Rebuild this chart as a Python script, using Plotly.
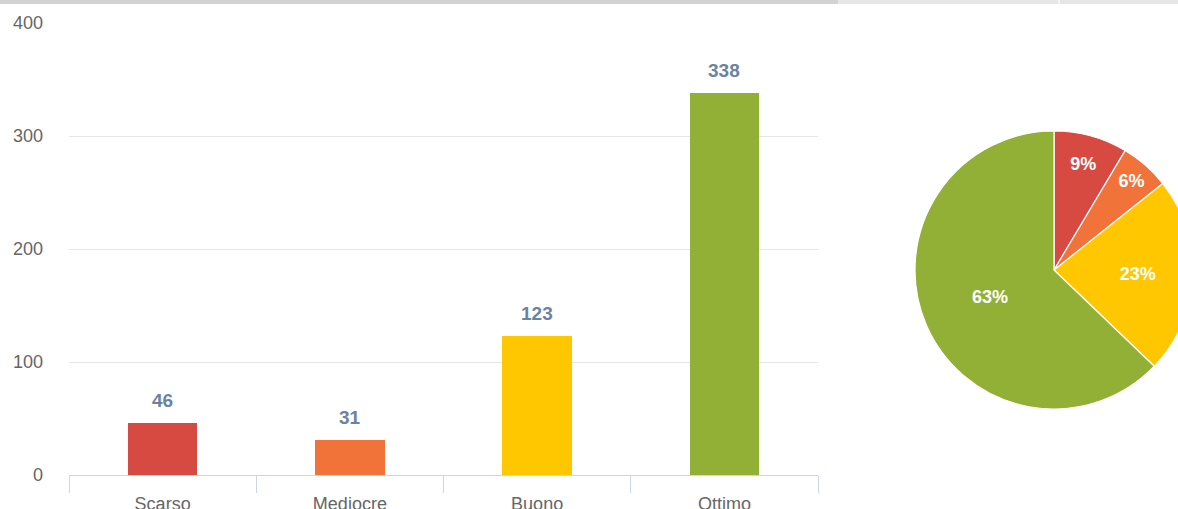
import plotly.graph_objects as go

categories = ["Scarso", "Mediocre", "Buono", "Ottimo"]
values = [46, 31, 123, 338]
colors = ["#d64a41", "#f2733a", "#ffc700", "#93b036"]
y_ticks = [0, 100, 200, 300, 400]

W, H = 1200, 509

fig = go.Figure()
fig.add_trace(go.Bar(
    x=categories, y=values, marker=dict(color=colors, line=dict(width=0)),
    width=0.37, xaxis="x", yaxis="y", hoverinfo="x+y", showlegend=False,
))
for c, v in zip(categories, values):
    fig.add_annotation(x=c, y=v, text=f"<b>{v}</b>", showarrow=False,
                       yanchor="bottom", yshift=10, xref="x", yref="y",
                       font=dict(family="Liberation Sans, Arial", size=19, color="#6a83a3"))

fig.add_trace(go.Pie(
    labels=categories, values=values, sort=False, direction="clockwise", rotation=0,
    marker=dict(colors=colors, line=dict(color="white", width=1.2)),
    textinfo="percent", texttemplate="<b>%{percent:.0%}</b>", textposition="inside",
    insidetextorientation="horizontal",
    textfont=dict(family="Liberation Sans, Arial", size=18, color="white"),
    domain=dict(x=[915 / W, 1193 / W], y=[(H - 409) / H, (H - 131) / H]),
    showlegend=False,
))

fig.update_layout(
    width=W, height=H,
    margin=dict(l=0, r=0, t=0, b=0),
    paper_bgcolor="white", plot_bgcolor="white",
    font=dict(family="Liberation Sans, Arial", size=18, color="#666666"),
    bargap=0,
    xaxis=dict(
        domain=[69 / W, 818 / W], type="category", range=[-0.5, 3.5],
        tickson="boundaries", ticks="outside", ticklen=17, tickcolor="#ccd6eb",
        showline=True, linecolor="#ccd6eb", linewidth=1, showgrid=False,
        ticklabelstandoff=12,
        tickfont=dict(size=18, color="#666666"), automargin=False, fixedrange=True,
    ),
    yaxis=dict(
        domain=[(H - 475) / H, (H - 23) / H], range=[0, 400], tickvals=y_ticks,
        showgrid=True, gridcolor="#e6e6e6", gridwidth=1, zeroline=False,
        ticks="", ticklabelstandoff=25, tickfont=dict(size=18, color="#666666"),
        automargin=False, fixedrange=True,
    ),
    shapes=[
        dict(type="rect", xref="paper", yref="paper", x0=0, x1=838 / W,
             y0=(H - 4) / H, y1=1, fillcolor="#d2d2d2", line=dict(width=0), layer="above"),
        dict(type="rect", xref="paper", yref="paper", x0=838 / W, x1=1,
             y0=(H - 4) / H, y1=1, fillcolor="#e6e6e6", line=dict(width=0), layer="above"),
        dict(type="line", xref="paper", yref="paper", x0=1059 / W, x1=1059 / W,
             y0=(H - 4) / H, y1=1, line=dict(color="white", width=1), layer="above"),
    ],
)

fig.write_html(
    "out.html",
    config={"displayModeBar": False},
    post_script="document.body.style.margin='0';document.body.style.overflow='hidden';",
)
